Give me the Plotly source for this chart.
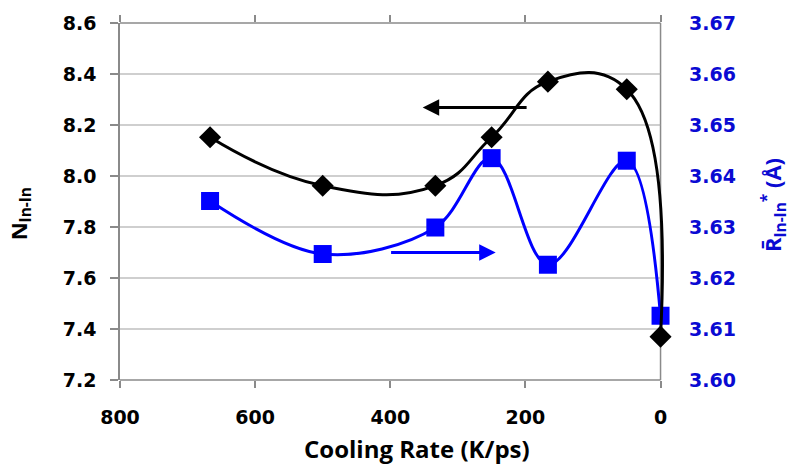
import plotly.graph_objects as go

# ---- data ----
cooling_rate = [666.7, 500, 333.3, 250, 166.7, 50, 0]
n_inin = [8.152, 7.962, 7.962, 8.152, 8.370, 8.340, 7.370]
r_inin = [3.6351, 3.6247, 3.6299, 3.6435, 3.6226, 3.6430, 3.6126]

x_ticks = [800, 600, 400, 200, 0]
left_ticks = [7.2, 7.4, 7.6, 7.8, 8.0, 8.2, 8.4, 8.6]
right_ticks = [3.60, 3.61, 3.62, 3.63, 3.64, 3.65, 3.66, 3.67]

# arrow annotations (data coords): (head x, tail x, y)
black_arrow = (352, 196, 8.269)
blue_arrow = (244, 401, 3.625)

X_MAX, X_MIN, X_PAD = 800, 0, -14   # axis spans 800..0; extra room so smoothed curves aren't clipped

BLUE = "#0000FF"
BLUE_TXT = "#0A0AD2"
TICKFONT = "DejaVu Sans"
TITLEFONT = "Open Sans"
GRID = "#a0a0a0"
AXIS = "#8a8a8a"

fig = go.Figure()

fig.add_trace(go.Scatter(
    x=cooling_rate, y=r_inin, yaxis="y", mode="lines+markers",
    line=dict(color=BLUE, width=3, shape="spline", smoothing=1.0),
    marker=dict(symbol="square", size=18, color=BLUE),
    cliponaxis=False, showlegend=False))

fig.add_trace(go.Scatter(
    x=cooling_rate, y=n_inin, yaxis="y2", mode="lines+markers",
    line=dict(color="black", width=3, shape="spline", smoothing=1.3),
    marker=dict(symbol="diamond", size=17, color="black"),
    cliponaxis=False, showlegend=False))

fig.update_layout(
    width=798, height=466,
    margin=dict(l=120, r=128, t=20, b=86),
    plot_bgcolor="white", paper_bgcolor="white",
    xaxis=dict(
        range=[X_MAX, X_PAD], tickvals=x_ticks, ticktext=[str(v) for v in x_ticks],
        showgrid=False, zeroline=False, showline=False, mirror="ticks",
        ticks="outside", ticklen=7, tickcolor=AXIS, tickwidth=1.5,
        ticklabelstandoff=13,
        tickfont=dict(family=TICKFONT, size=19, color="black", weight="bold")),
    yaxis=dict(
        side="right", range=[3.60, 3.67], tickvals=right_ticks,
        ticktext=[f"{v:.2f}" for v in right_ticks],
        showgrid=False, zeroline=False, showline=False,
        ticks="", ticklabelstandoff=18,
        tickfont=dict(family=TICKFONT, size=19, color=BLUE_TXT, weight="bold")),
    yaxis2=dict(
        side="left", overlaying="y", range=[7.2, 8.6], tickvals=left_ticks,
        ticktext=[f"{v:.1f}" for v in left_ticks],
        showgrid=False, zeroline=False, showline=True, linecolor=AXIS, linewidth=1.5,
        ticks="outside", ticklen=8, tickcolor=AXIS, tickwidth=1.5,
        ticklabelstandoff=10,
        tickfont=dict(family=TICKFONT, size=19, color="black", weight="bold")),
)

shapes = []
# horizontal gridlines at the left-axis ticks, spanning 800..0
for t in left_ticks[1:-1]:
    shapes.append(dict(type="line", xref="x", yref="y2", x0=X_MAX, x1=X_MIN, y0=t, y1=t,
                       line=dict(color=GRID, width=1.2), layer="below"))
# bottom and top frame lines, right axis line at x=0
for yp in (0, 1):
    shapes.append(dict(type="line", xref="x", yref="paper", x0=X_MAX, x1=X_MIN, y0=yp, y1=yp,
                       line=dict(color=AXIS, width=1.5), layer="below"))
shapes.append(dict(type="line", xref="x", yref="paper", x0=X_MIN, x1=X_MIN, y0=0, y1=1,
                   line=dict(color=AXIS, width=1.5), layer="below"))
fig.update_layout(shapes=shapes)

annotations = [
    dict(text="<b>Cooling Rate (K/ps)</b>", xref="paper", yref="paper", x=0.54, y=0,
         yshift=-68, showarrow=False, xanchor="center", yanchor="middle",
         font=dict(family=TITLEFONT, size=24, color="black", weight="bold")),
    dict(text="<b>N<sub>In-In</sub></b>", xref="paper", yref="paper", x=0, y=0.464,
         xshift=-100, showarrow=False, xanchor="center", yanchor="middle", textangle=-90,
         font=dict(family=TITLEFONT, size=22, color="black", weight="bold")),
    dict(text="<b>R\u0304<sub>In-In</sub><sup>*</sup> (Å)</b>", xref="paper", yref="paper",
         x=1, y=0.49, xshift=103, showarrow=False, xanchor="center", yanchor="middle",
         textangle=-90, font=dict(family=TITLEFONT, size=22, color=BLUE_TXT, weight="bold")),
    dict(text="", x=black_arrow[0], y=black_arrow[2], ax=black_arrow[1], ay=black_arrow[2],
         xref="x", yref="y2", axref="x", ayref="y2", showarrow=True,
         arrowhead=2, arrowsize=1.1, arrowwidth=3, arrowcolor="black"),
    dict(text="", x=blue_arrow[0], y=blue_arrow[2], ax=blue_arrow[1], ay=blue_arrow[2],
         xref="x", yref="y", axref="x", ayref="y", showarrow=True,
         arrowhead=2, arrowsize=1.1, arrowwidth=3, arrowcolor=BLUE),
]
fig.update_layout(annotations=annotations)

fig.write_html("out.html", config={"displayModeBar": False})

# remove the default page margin so the figure sits at the window's top-left corner
with open("out.html", encoding="utf-8") as f:
    html = f.read()
html = html.replace("<head>", '<head><style>html,body{margin:0;padding:0;}</style>', 1)
with open("out.html", "w", encoding="utf-8") as f:
    f.write(html)
